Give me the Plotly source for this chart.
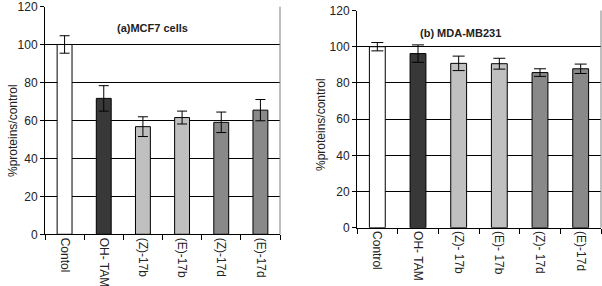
import plotly.graph_objects as go

# ---- data ----
left_categories = ["Contol", "OH- TAM", "(Z)-17b", "(E)-17b", "(Z)-17d", "(E)-17d"]
left_values = [100, 71.6, 56.7, 61.5, 59.0, 65.4]
left_errors = [4.6, 6.7, 5.2, 3.4, 5.4, 5.6]

right_categories = ["Control", "OH- TAM", "(Z)- 17b", "(E)- 17b", "(Z)- 17d", "(E)-17d"]
right_values = [100, 96.2, 90.8, 90.6, 85.7, 87.8]
right_errors = [2.3, 4.8, 4.0, 3.0, 2.1, 2.6]

bar_colors = ["#ffffff", "#383838", "#c0c0c0", "#c0c0c0", "#898989", "#898989"]

y_ticks = [0, 20, 40, 60, 80, 100, 120]

W, H = 602, 286

def px_x(p):
    return p / W

def px_y(p):
    return (H - p) / H

fig = go.Figure()

fig.add_trace(go.Bar(
    x=left_categories, y=left_values, xaxis="x", yaxis="y",
    marker=dict(color=bar_colors, line=dict(color="#000000", width=1)),
    width=0.38,
    error_y=dict(type="data", array=left_errors, color="#000000", thickness=1, width=5),
    showlegend=False,
))
fig.add_trace(go.Bar(
    x=right_categories, y=right_values, xaxis="x2", yaxis="y2",
    marker=dict(color=bar_colors, line=dict(color="#000000", width=1)),
    width=0.39,
    error_y=dict(type="data", array=right_errors, color="#000000", thickness=1, width=6),
    showlegend=False,
))

font_family = "Liberation Sans, Arial, sans-serif"

xaxis_common = dict(
    type="category", tickson="boundaries", ticks="outside", ticklen=5,
    tickcolor="#000000", tickwidth=1, showline=True, linecolor="#000000",
    linewidth=1, tickangle=90, showgrid=False, automargin=False,
    ticklabeloverflow="allow",
    tickfont=dict(family=font_family, size=12, color="#222222"),
)
yaxis_common = dict(
    range=[0, 120], tickvals=y_ticks, ticks="outside", ticklen=4,
    tickcolor="#000000", tickwidth=1, showline=True, linecolor="#000000",
    linewidth=1, showgrid=True, gridcolor="#000000", gridwidth=1,
    zeroline=False, automargin=False, ticklabeloverflow="allow",
    tickfont=dict(family=font_family, size=12, color="#222222"),
)

fig.update_layout(
    template="none",
    width=W, height=H, autosize=False,
    margin=dict(l=0, r=0, t=0, b=0, pad=0),
    paper_bgcolor="#ffffff", plot_bgcolor="#ffffff",
    bargap=0.6,
    xaxis=dict(domain=[px_x(45), px_x(280)], anchor="y", **xaxis_common),
    yaxis=dict(domain=[px_y(234.3), px_y(6.5)], anchor="x", **yaxis_common),
    xaxis2=dict(domain=[px_x(357), px_x(601)], anchor="y2", **xaxis_common),
    yaxis2=dict(domain=[px_y(227.7), px_y(10.5)], anchor="x2", **yaxis_common),
    shapes=[
        dict(type="line", xref="x domain", yref="y domain", x0=1, x1=1, y0=0, y1=1,
             line=dict(color="#808080", width=1)),
        dict(type="line", xref="x2 domain", yref="y2 domain", x0=1, x1=1, y0=0, y1=1,
             line=dict(color="#808080", width=1)),
    ],
    annotations=[
        dict(text="<b>(a)MCF7 cells</b>", xref="paper", yref="paper",
             x=px_x(152), y=px_y(28), xanchor="center", yanchor="middle", showarrow=False,
             font=dict(family=font_family, size=11, color="#222222")),
        dict(text="<b>(b) MDA-MB231</b>", xref="paper", yref="paper",
             x=px_x(460), y=px_y(33), xanchor="center", yanchor="middle", showarrow=False,
             font=dict(family=font_family, size=11, color="#222222")),
        dict(text="%proteins/control", xref="paper", yref="paper", textangle=-90,
             x=px_x(13), y=px_y(131), xanchor="center", yanchor="middle", showarrow=False,
             font=dict(family=font_family, size=12, color="#222222")),
        dict(text="%proteins/control", xref="paper", yref="paper", textangle=-90,
             x=px_x(321), y=px_y(125), xanchor="center", yanchor="middle", showarrow=False,
             font=dict(family=font_family, size=12, color="#222222")),
    ],
)

fig.write_html("out.html", config={"displayModeBar": False},
               post_script="document.body.style.margin='0';")
